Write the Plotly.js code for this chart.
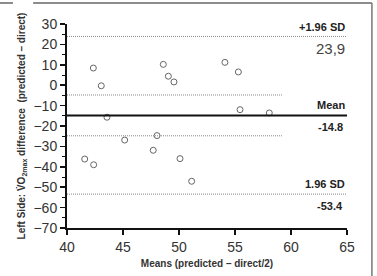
<!DOCTYPE html>
<html>
<head>
<meta charset="utf-8">
<script src="https://cdn.plot.ly/plotly-3.0.1.min.js"></script>
<style>
  html, body { margin: 0; padding: 0; background: #fff; }
  #plot { width: 377px; height: 276px; }
</style>
</head>
<body>
<div id="plot"></div>
<script>
// Bland–Altman: mean of the two methods vs. their difference
const means = [42.35, 43.06, 43.57, 48.6, 49.05, 49.55, 54.1, 55.3, 55.45, 58.06,
               45.15, 48.04, 47.7, 41.58, 42.38, 50.09, 51.13];
const diffs = [8.4, -0.3, -15.7, 10.2, 4.4, 1.6, 11.2, 6.5, -12.0, -13.6,
               -26.9, -24.7, -31.9, -36.2, -39.0, -36.0, -47.1];

const meanDiff = -14.8;
const upperLoA = 23.9;
const lowerLoA = -53.4;
const ciMean = [-4.8, -24.8];     // confidence band around the mean difference
const ciEnd = 59.2;

const xRange = [40, 65];
const yRange = [-70, 30];
const xTicks = [40, 45, 50, 55, 60, 65];
const yTicks = [30, 20, 10, 0, -10, -20, -30, -40, -50, -60, -70];

const labelFont = { family: 'Liberation Sans, Arial, sans-serif', size: 11, color: '#222' };
const boldFont = Object.assign({}, labelFont, { weight: 'bold' });
const dotted = { color: '#8a8a8a', width: 1, dash: '1px,1px' };

const shapes = [
  // limits of agreement
  { type: 'line', xref: 'x', yref: 'y', x0: xRange[0], x1: xRange[1], y0: upperLoA, y1: upperLoA, line: dotted },
  { type: 'line', xref: 'x', yref: 'y', x0: xRange[0], x1: xRange[1], y0: lowerLoA, y1: lowerLoA, line: dotted },
  // mean difference
  { type: 'line', xref: 'x', yref: 'y', x0: xRange[0], x1: xRange[1], y0: meanDiff, y1: meanDiff,
    line: { color: '#111', width: 2 } },
  // band around the mean
  { type: 'line', xref: 'x', yref: 'y', x0: xRange[0], x1: ciEnd, y0: ciMean[0], y1: ciMean[0], line: dotted },
  { type: 'line', xref: 'x', yref: 'y', x0: xRange[0], x1: ciEnd, y0: ciMean[1], y1: ciMean[1], line: dotted },
  // figure frame
  { type: 'line', xref: 'paper', yref: 'paper', x0: -0.121, x1: 1.089, y0: 1.103, y1: 1.103,
    line: { color: '#666', width: 1.5 } },
  { type: 'line', xref: 'paper', yref: 'paper', x0: -0.24, x1: -0.193, y0: 1.103, y1: 1.103,
    line: { color: '#666', width: 1.5 } },
  { type: 'line', xref: 'paper', yref: 'paper', x0: 1.089, x1: 1.089, y0: 1.103, y1: -0.24,
    line: { color: '#777', width: 1.5 } }
];

const annotations = [
  { x: xRange[1], y: upperLoA, xref: 'x', yref: 'y', text: '+1.96 SD', showarrow: false,
    xanchor: 'right', yanchor: 'bottom', yshift: 1, font: boldFont },
  { x: xRange[1], y: upperLoA, xref: 'x', yref: 'y', text: String(upperLoA).replace('.', ','),
    showarrow: false, xanchor: 'right', yanchor: 'top', yshift: -2,
    font: { family: 'Liberation Sans, Arial, sans-serif', size: 15, color: '#444' } },
  { x: xRange[1], y: meanDiff, xref: 'x', yref: 'y', text: 'Mean', showarrow: false,
    xanchor: 'right', yanchor: 'bottom', yshift: 2, font: boldFont },
  { x: xRange[1], y: meanDiff, xref: 'x', yref: 'y', text: String(meanDiff), showarrow: false,
    xanchor: 'right', yanchor: 'top', yshift: -4, xshift: -2, font: boldFont },
  { x: xRange[1], y: lowerLoA, xref: 'x', yref: 'y', text: '1.96 SD', showarrow: false,
    xanchor: 'right', yanchor: 'bottom', yshift: 2, font: boldFont },
  { x: xRange[1], y: lowerLoA, xref: 'x', yref: 'y', text: String(lowerLoA), showarrow: false,
    xanchor: 'right', yanchor: 'top', yshift: -4, xshift: -2, font: boldFont }
];

const trace = {
  x: means, y: diffs, type: 'scatter', mode: 'markers',
  marker: { symbol: 'circle-open', size: 6, color: '#666', line: { width: 1, color: '#666' } },
  hoverinfo: 'skip', cliponaxis: false
};

const layout = {
  width: 377, height: 276,
  margin: { l: 67, r: 30, t: 24, b: 48 },
  paper_bgcolor: '#fff', plot_bgcolor: '#fff',
  showlegend: false,
  font: { family: 'Liberation Sans, Arial, sans-serif', color: '#333' },
  xaxis: {
    range: xRange, tickvals: xTicks, ticks: 'outside', ticklen: 5, tickwidth: 1.5, tickcolor: '#111',
    showline: true, linecolor: '#111', linewidth: 2, showgrid: false, zeroline: false,
    tickfont: { size: 14, color: '#333' },
    title: { text: 'Means (predicted – direct/2)', standoff: 6,
             font: { size: 10, weight: 'bold', color: '#333' } }
  },
  yaxis: {
    range: yRange, tickvals: yTicks, ticks: 'outside', ticklen: 5, tickwidth: 1.5, tickcolor: '#111',
    showline: true, linecolor: '#111', linewidth: 2, showgrid: false, zeroline: false,
    tickfont: { size: 14, color: '#333' },
    minor: { dtick: 5, ticks: 'outside', ticklen: 3, tickcolor: '#111', tickwidth: 1, showgrid: false },
    title: { text: 'Left Side: V̇O<sub>2max</sub> difference  (predicted – direct)', standoff: 6,
             font: { size: 10, weight: 'bold', color: '#333' } }
  },
  shapes: shapes,
  annotations: annotations
};

Plotly.newPlot('plot', [trace], layout, { staticPlot: true, displayModeBar: false });
</script>
</body>
</html>
